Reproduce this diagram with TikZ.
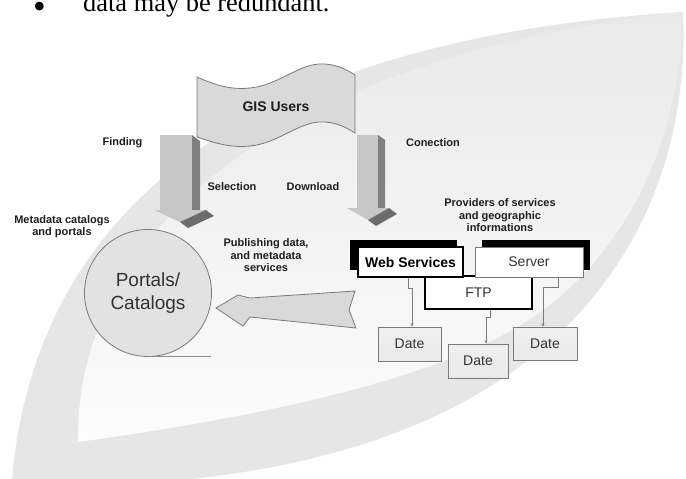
\documentclass[tikz,border=0pt]{standalone}
\usepackage{fontspec}
\setmainfont{Liberation Sans}
\newfontfamily\docserif{Liberation Serif}
\usetikzlibrary{arrows.meta}
\definecolor{bgband}{HTML}{E6E6E6}
\definecolor{bgtop}{HTML}{E9E9E9}
\definecolor{bgmid}{HTML}{F7F7F7}
\definecolor{bgbot}{HTML}{FCFCFC}
\definecolor{arrfront}{HTML}{C6C6C6}
\definecolor{arrside}{HTML}{808080}
\definecolor{arrdark}{HTML}{6C6C6C}
\definecolor{bannerfill}{HTML}{D9D9D9}
\definecolor{edgegray}{HTML}{7A7A7A}
\definecolor{txtdark}{HTML}{1E1E1E}
\definecolor{txtgray}{HTML}{333333}
\definecolor{boxfill}{HTML}{E9E9E9}
\definecolor{circfill}{HTML}{E2E2E2}
\tikzset{
  lbl/.style={font=\fontsize{11}{12.5}\selectfont\bfseries, text=txtdark, align=center, inner sep=0pt},
  datebox/.style={draw=edgegray, line width=0.8pt, top color=boxfill!70!white, bottom color=boxfill,
     minimum width=63pt, minimum height=34pt, inner sep=0pt,
     font=\fontsize{14}{16}\selectfont, text=txtgray},
  shadowbox/.style={fill=black, inner sep=0pt, minimum width=107pt, minimum height=30pt},
  conn/.style={draw=edgegray, line width=0.6pt, -{Stealth[length=3.5pt,width=3pt]}},
  doctext/.style={anchor=base west, inner sep=0pt, font=\docserif\fontsize{26.4}{28}\selectfont},
}
\begin{document}
\begin{tikzpicture}[x=1pt,y=-1pt]
\useasboundingbox (0,0) rectangle (686,479);
\clip (0,0) rectangle (686,479);
\fill[white] (0,0) rectangle (686,479);
% background swoosh
\fill[bgband] (12,479) .. controls (35,220) and (230,40) .. (683,12)
   .. controls (692,190) and (600,470) .. (100,485) -- (0,485) -- cycle;
\shade[top color=bgtop, middle color=bgmid, bottom color=bgbot]
   (78,442) .. controls (75,250) and (250,60) .. (683,12)
   .. controls (680,150) and (620,260) .. (529,320)
   .. controls (420,390) and (200,425) .. (78,442) -- cycle;
% top text (cut)
\node[doctext, font=\docserif\fontsize{36}{38}\selectfont] (bul) at (33,18) {•};
\node[doctext] (toptext) at (83,12) {data may be redundant.};
% 3D arrows
\fill[arrfront] (160,135) rectangle (192,210);
\fill[arrside] (192,135) -- (200,141) -- (200,210) -- (192,210) -- cycle;
\fill[arrfront] (154,210) -- (206,210) -- (180,222) -- cycle;
\fill[arrdark] (206,210) -- (214,216) -- (188,228) -- (180,222) -- cycle;
\fill[arrfront] (357,135) rectangle (378,208);
\fill[arrside] (378,135) -- (385,140) -- (385,208) -- (378,208) -- cycle;
\fill[arrfront] (347,208) -- (389,208) -- (368,220) -- cycle;
\fill[arrdark] (389,208) -- (397,214) -- (376,226) -- (368,220) -- cycle;
% banner
\draw[draw=edgegray, line width=0.8pt, fill=bannerfill]
  (197,77) .. controls (215,85) and (230,90) .. (250,88)
  .. controls (280,85) and (300,62) .. (325,64)
  .. controls (340,65) and (350,72) .. (355,75) -- (355,133)
  .. controls (350,130) and (340,123) .. (325,122)
  .. controls (300,120) and (280,143) .. (250,146)
  .. controls (230,148) and (215,143) .. (197,137) -- cycle;
\node[font=\fontsize{14}{16}\selectfont\bfseries, text=txtdark] (gis) at (276,107) {GIS Users};
% labels
\node[lbl] (finding) at (122.5,143) {Finding};
\node[lbl] (selection) at (232,187) {Selection};
\node[lbl] (download) at (313,187) {Download};
\node[lbl] (conection) at (433,143) {Conection};
\node[lbl] (meta) at (62,226.5) {Metadata catalogs\\and portals};
\node[lbl] (providers) at (500,215.5) {Providers of services\\and geographic\\informations};
\node[lbl] (publishing) at (266,255.5) {Publishing data,\\and metadata\\services};
% circle
\node[circle, draw=edgegray, line width=0.8pt, fill=circfill, minimum size=127pt, inner sep=0pt,
      align=center, font=\fontsize{19}{23}\selectfont, text=txtgray] (portals) at (148,293) {Portals/\\Catalogs};
\draw[draw=gray!90, line width=1pt] (portals.south) -- ++(63,0);
% big left arrow
\draw[draw=edgegray, line width=0.8pt, fill=bannerfill]
  (216,308) -- (238,295) -- (250,298) -- (355,291) -- (349,310) -- (356,328)
  -- (250,317) -- (243,326) -- cycle;
% boxes
\node[draw=black, line width=1.5pt, fill=white, minimum width=107pt, minimum height=33pt, inner sep=0pt,
      font=\fontsize{14}{16}\selectfont, text=txtgray] (ftp) at (478.5,292.5) {FTP};
\node[shadowbox] (wsshadow) at (403.5,255) {};
\node[draw=black, line width=1.5pt, fill=white, minimum width=105pt, minimum height=30pt, inner sep=0pt,
      font=\fontsize{14}{16}\selectfont\bfseries, text=black] (ws) at (410.5,262) {Web Services};
\node[shadowbox, minimum width=108pt] (srvshadow) at (536,255) {};
\node[draw=edgegray, line width=0.8pt, fill=white, minimum width=108pt, minimum height=30pt, inner sep=0pt,
      font=\fontsize{14}{16}\selectfont, text=txtgray] (server) at (529,262) {Server};
% date boxes
\node[datebox] (d1) at (409.5,344) {Date};
\node[datebox, minimum width=60pt] (d2) at (478,361) {Date};
\node[datebox, minimum width=64pt, minimum height=33pt] (d3) at (545,343.5) {Date};
% connectors
\draw[conn] ([xshift=-2.5pt]ws.south) -- ++(0,11) -- ++(4,0) -- (d1.north -| 412,0);
\draw[conn] ([xshift=11.5pt]ftp.south) -- ++(0,8) -- ++(-4,0) -- (d2.north -| 486,0);
\draw[conn] ([xshift=29pt]server.south) -- ++(0,10) -- ++(-15,0) -- (d3.north -| 543,0);
\end{tikzpicture}
\end{document}
